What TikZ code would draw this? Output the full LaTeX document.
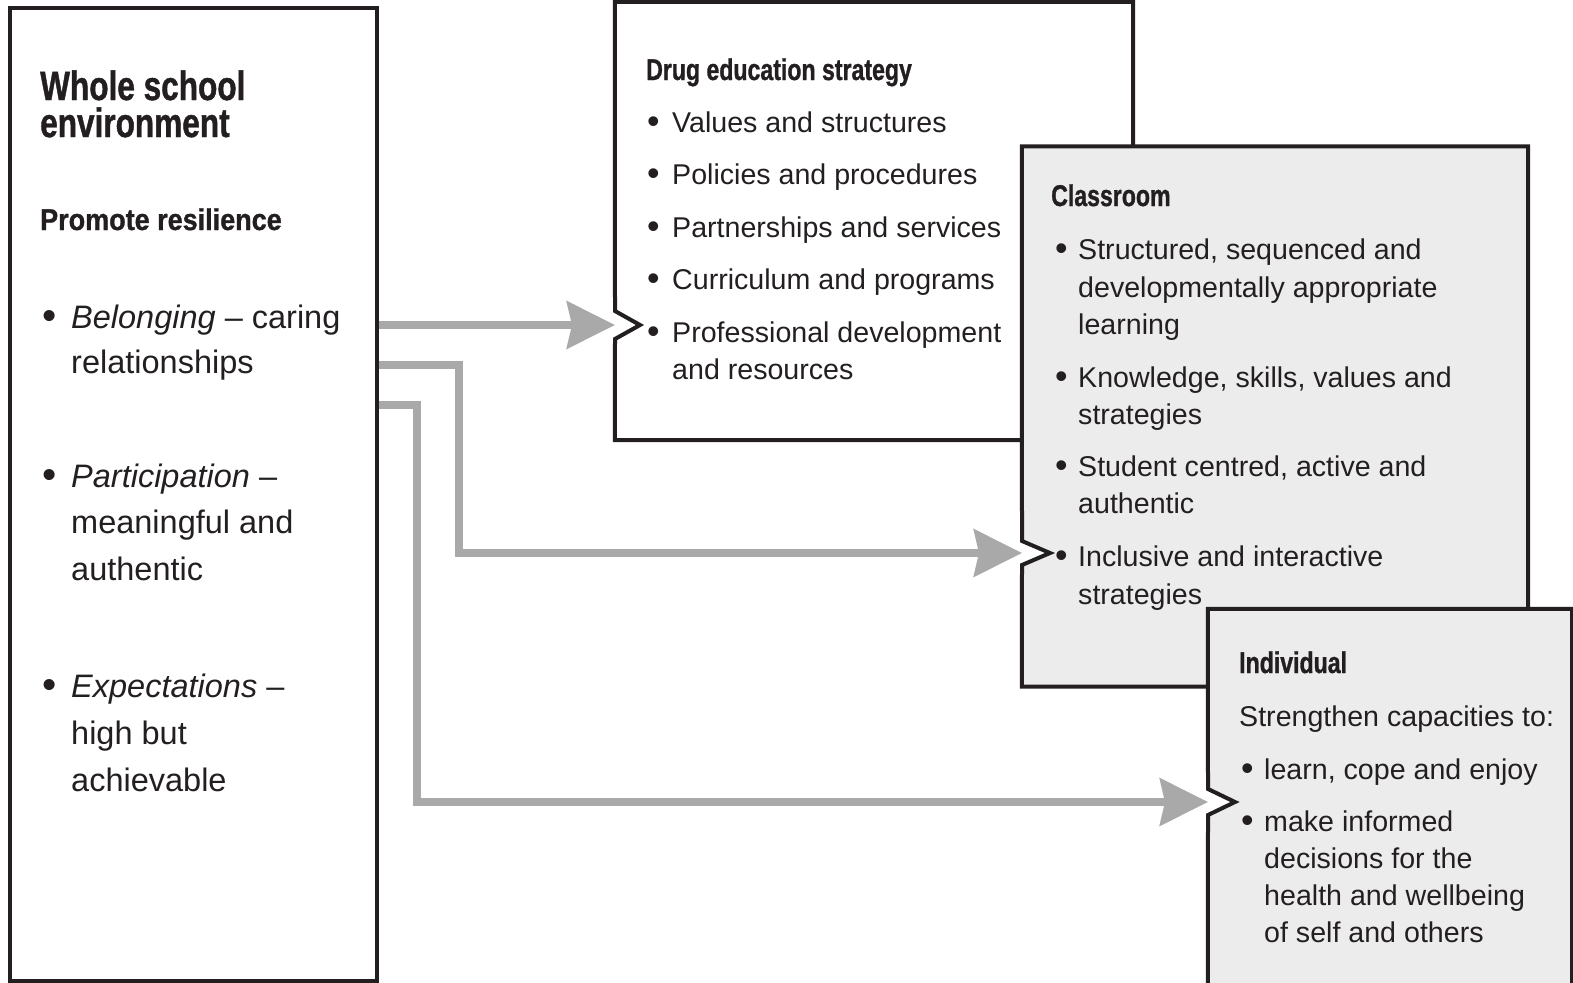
\documentclass[tikz,border=0pt]{standalone}
\usepackage{graphicx}
\usepackage{fontspec}
\setmainfont{Liberation Sans}
\newfontfamily\headfont{Liberation Sans}[FakeStretch=0.77,BoldFeatures={FakeBold=1}]
\newfontfamily\headwide{Liberation Sans}[FakeStretch=0.9,BoldFeatures={FakeBold=1}]
\usetikzlibrary{arrows.meta,calc}
\definecolor{ink}{HTML}{231F20}
\definecolor{boxgray}{HTML}{ECECEC}
\definecolor{arrowgray}{HTML}{A9A9A9}
\newcommand{\bul}{\raisebox{-1.5pt}{\scalebox{1.25}{\textbullet}}}
\tikzset{
  frame/.style={rectangle, draw=none, inner sep=0pt},
  boxline/.style={draw=ink, line width=4pt, line join=miter},
  body/.style={anchor=base west, inner sep=0pt, text=ink, font=\fontsize{28.6}{34}\selectfont},
  bigbody/.style={anchor=base west, inner sep=0pt, text=ink, font=\fontsize{32.5}{38}\selectfont},
  head/.style={anchor=base west, inner sep=0pt, text=ink, font=\headfont\bfseries\fontsize{30}{36}\selectfont},
  widehead/.style={anchor=base west, inner sep=0pt, text=ink, font=\headwide\bfseries\fontsize{30}{36}\selectfont},
  bighead/.style={anchor=base west, inner sep=0pt, text=ink, font=\headfont\bfseries\fontsize{41}{45}\selectfont},
  flow/.style={draw=arrowgray, line width=8pt, -{Stealth[length=48pt,width=47pt,inset=5pt]}}
}
\begin{document}
\begin{tikzpicture}[x=1pt,y=-1pt]
\useasboundingbox (0,0) rectangle (1573,982);
\fill[white] (0,0) rectangle (1573,982);

% frames of the boxes
\node[frame, minimum width=367pt, minimum height=973pt] (left) at (193.5,494.5) {};
\node[frame, minimum width=518pt, minimum height=438pt] (drug) at (874,221) {};
\node[frame, minimum width=506pt, minimum height=540pt] (class) at (1275,416.5) {};
\node[frame, minimum width=364pt, minimum height=400pt] (indiv) at (1390,809) {};

\coordinate (drugin) at (615,325);
\coordinate (classin) at (1022,553);
\coordinate (indivin) at (1208,802);
\coordinate (s1) at ($(left.east |- drugin)+(2,0)$);
\coordinate (s2) at ($(s1)+(0,40)$);
\coordinate (s3) at ($(s1)+(0,80)$);
\coordinate (k2) at ($(s2)+(80,0)$);
\coordinate (k3) at ($(s3)+(38,0)$);

% left box
\draw[boxline, fill=white] (left.north west) rectangle (left.south east);
\node[bighead] (t1) at (40,100) {Whole school};
\node[bighead] (t2) at (40,137) {environment};
\node[widehead] (t3) at (40,230) {Promote resilience};
\node[bigbody] (b1) at (42,328) {\bul};
\node[bigbody] (l1) at (71,328) {\textit{Belonging} – caring};
\node[bigbody] (l2) at (71,373) {relationships};
\node[bigbody] (b2) at (42,487) {\bul};
\node[bigbody] (l3) at (71,487) {\textit{Participation} –};
\node[bigbody] (l4) at (71,533) {meaningful and};
\node[bigbody] (l5) at (71,580) {authentic};
\node[bigbody] (b3) at (42,697) {\bul};
\node[bigbody] (l6) at (71,697) {\textit{Expectations} –};
\node[bigbody] (l7) at (71,744) {high but};
\node[bigbody] (l8) at (71,791) {achievable};

% drug education box
\draw[boxline, fill=white] (drug.south west) -- ($(drugin)+(0,14)$) -- ($(drugin)+(25,0)$) -- ($(drugin)+(0,-14)$)
  -- (drug.north west) -- (drug.north east) -- (drug.south east) -- cycle;
\node[head] (d0) at (646,80) {Drug education strategy};
\node[body] (db1) at (647,132) {\bul};
\node[body] (d1) at (672,132) {Values and structures};
\node[body] (db2) at (647,184) {\bul};
\node[body] (d2) at (672,184) {Policies and procedures};
\node[body] (db3) at (647,237) {\bul};
\node[body] (d3) at (672,237) {Partnerships and services};
\node[body] (db4) at (647,289) {\bul};
\node[body] (d4) at (672,289) {Curriculum and programs};
\node[body] (db5) at (647,342) {\bul};
\node[body] (d5) at (672,342) {Professional development};
\node[body] (d6) at (672,379) {and resources};

% classroom box
\draw[boxline, fill=boxgray] (class.south west) -- ($(classin)+(0,12)$) -- ($(classin)+(28,0)$) -- ($(classin)+(0,-12)$)
  -- (class.north west) -- (class.north east) -- (class.south east) -- cycle;
\node[head] (c0) at (1051,206) {Classroom};
\node[body] (cb1) at (1055,259) {\bul};
\node[body] (c1) at (1078,259) {Structured, sequenced and};
\node[body] (c2) at (1078,297) {developmentally appropriate};
\node[body] (c3) at (1078,334) {learning};
\node[body] (cb2) at (1055,387) {\bul};
\node[body] (c4) at (1078,387) {Knowledge, skills, values and};
\node[body] (c5) at (1078,424) {strategies};
\node[body] (cb3) at (1055,476) {\bul};
\node[body] (c6) at (1078,476) {Student centred, active and};
\node[body] (c7) at (1078,513) {authentic};
\node[body] (cb4) at (1055,566) {\bul};
\node[body] (c8) at (1078,566) {Inclusive and interactive};
\node[body] (c9) at (1078,604) {strategies};

% individual box
\draw[boxline, fill=boxgray] (indiv.south west) -- ($(indivin)+(0,13)$) -- ($(indivin)+(27,0)$) -- ($(indivin)+(0,-13)$)
  -- (indiv.north west) -- (indiv.north east) -- (indiv.south east) -- cycle;
\node[head] (i0) at (1239,673) {Individual};
\node[body] (i1) at (1239,726) {Strengthen capacities to:};
\node[body] (ib1) at (1241,779) {\bul};
\node[body] (i2) at (1264,779) {learn, cope and enjoy};
\node[body] (ib2) at (1241,831) {\bul};
\node[body] (i3) at (1264,831) {make informed};
\node[body] (i4) at (1264,868) {decisions for the};
\node[body] (i5) at (1264,905) {health and wellbeing};
\node[body] (i6) at (1264,942) {of self and others};

% connectors
\draw[flow] (s1) -- (drugin);
\draw[flow] (s2) -- (k2) |- (classin);
\draw[flow] (s3) -- (k3) |- (indivin);
\end{tikzpicture}
\end{document}
